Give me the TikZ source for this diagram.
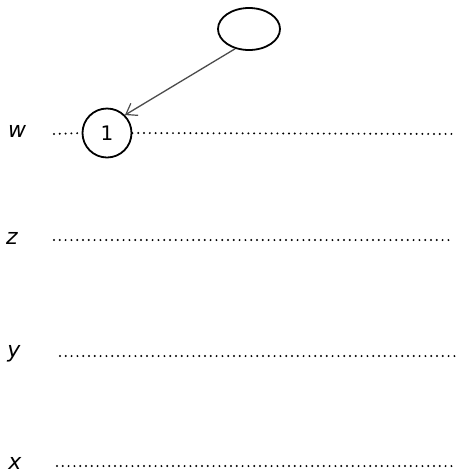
\documentclass[tikz,border=0pt]{standalone}
\usepackage{fontspec}
\setmainfont{DejaVu Sans}
\usetikzlibrary{arrows.meta,shapes.geometric}
\begin{document}
\begin{tikzpicture}[x=1pt,y=-1pt,
  sketch/.style={draw=black,line width=1.8pt},
  dotline/.style={draw=black,line width=2.2pt,line cap=round,dash pattern=on 0pt off 5.8pt},
  lbl/.style={font=\fontsize{22}{26}\selectfont\itshape,inner sep=0pt},
  conn/.style={draw=black!70,line width=1.3pt,-{Straight Barb[length=10pt,width=14pt,line width=1.2pt]}}]
\useasboundingbox (0,0) rectangle (456,475);
\fill[white] (0,0) rectangle (456,475);
% top ellipse
\node[sketch,ellipse,minimum width=62pt,minimum height=42pt] (top) at (249,29) {};
% node 1
\node[sketch,circle,minimum size=49pt,inner sep=0pt,font=\fontsize{20}{24}\selectfont] (n1) at (107,133) {1};
\draw[conn] (top.235) -- (n1.45);
% labels
\node[lbl] (w) at (17,131) {w};
\node[lbl] (z) at (12,238) {z};
\node[lbl] (y) at (14,354) {y};
\node[lbl] (x) at (15,463) {x};
% line endpoints
\coordinate (wL) at (54,134);
\coordinate (wR) at (456,134);
\coordinate (zL) at (54,240);
\coordinate (zR) at (452,240);
\coordinate (yL) at (60,356);
\coordinate (yR) at (456,356);
\coordinate (xL) at (57,466);
\coordinate (xR) at (456,466);
\draw[dotline] (wL) -- (n1.west);
\draw[dotline] (n1.east) -- (wR);
\draw[dotline] (zL) -- (zR);
\draw[dotline] (yL) -- (yR);
\draw[dotline] (xL) -- (xR);
\end{tikzpicture}
\end{document}
